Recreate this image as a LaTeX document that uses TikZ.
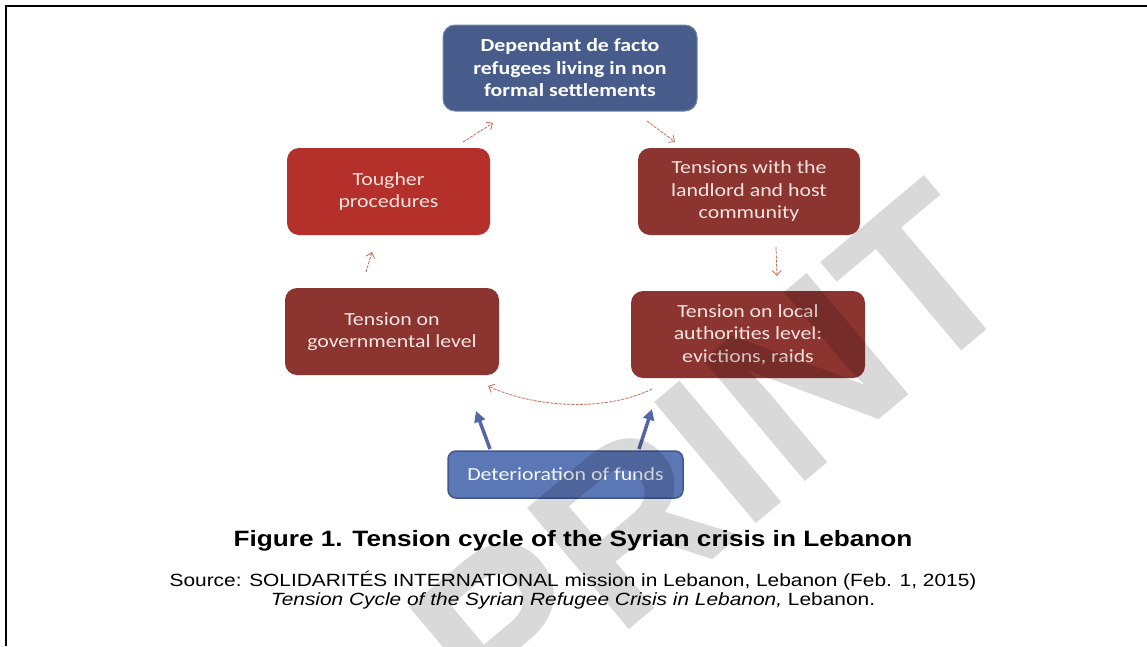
\documentclass[tikz,border=0pt]{standalone}
\usepackage{fontspec}
\setmainfont[FakeStretch=1.18]{Liberation Sans}
\newfontfamily\boxfont[FakeStretch=1.18]{Carlito}
\newfontfamily\wmfont{Liberation Sans}
\usetikzlibrary{arrows.meta}
\definecolor{topblue}{HTML}{485C8C}
\definecolor{brightred}{HTML}{B5302A}
\definecolor{darkred}{HTML}{8B3430}
\definecolor{funblue}{HTML}{5B77B5}
\definecolor{funedge}{HTML}{40578E}
\definecolor{arrred}{HTML}{C46A5A}
\definecolor{arrblue}{HTML}{5366A8}
\definecolor{boxtext}{HTML}{F6E4DF}
\tikzset{
  cbox/.style={rounded corners=12pt, inner sep=0pt, align=center,
    text=boxtext, font=\boxfont\fontsize{18.5}{22.5}\selectfont},
  thinarr/.style={draw=arrred, line width=0.8pt, dash pattern=on 3pt off 1.2pt,
    -{Straight Barb[length=5pt,width=9pt,line width=0.8pt]}},
  bluearr/.style={draw=arrblue, line width=3.5pt,
    -{Triangle[length=11pt,width=11pt]}},
  frameline/.style={line width=2pt, black}
}
\begin{document}
\begin{tikzpicture}[x=1pt,y=-1pt]
\useasboundingbox (0,0) rectangle (1147,646);
\fill[white] (0,0) rectangle (1147,646);
\draw[frameline] (6,646) -- (6,6) -- (1147,6);

\node[cbox, fill=topblue, draw=topblue!75!white, line width=1pt,
  minimum width=254pt, minimum height=86pt, text=white,
  font=\boxfont\bfseries\fontsize{18.5}{22.5}\selectfont] (top) at (570,68)
  {Dependant de facto\\refugees living in non\\formal settlements};
\node[cbox, fill=brightred, minimum width=203pt, minimum height=87pt] (tough) at (388.5,191.5)
  {Tougher\\procedures};
\node[cbox, fill=darkred, minimum width=222pt, minimum height=87pt] (tens) at (749,191.5)
  {Tensions with the\\landlord and host\\community};
\node[cbox, fill=darkred, minimum width=214pt, minimum height=87pt] (gov) at (392,331.5)
  {Tension on\\governmental level};
\node[cbox, fill=darkred, minimum width=234pt, minimum height=87pt] (local) at (748,334.5)
  {Tension on local\\authorities level:\\evictions, raids};
\node[cbox, rounded corners=8pt, fill=funblue, draw=funedge, line width=1.5pt,
  minimum width=235pt, minimum height=47pt, text=white!95!funblue] (funds) at (565.5,474.5)
  {Deterioration of funds};

\coordinate (a1s) at (463,142); \coordinate (a1e) at (493,123);
\coordinate (a2s) at (647,121); \coordinate (a2e) at (675,142);
\coordinate (a3s) at (776,247); \coordinate (a3e) at (777,276);
\coordinate (a4s) at (652,389); \coordinate (a4e) at (488,386);
\coordinate (a5s) at (366,272); \coordinate (a5e) at (372,252);
\coordinate (b1s) at (490,449); \coordinate (b1e) at (476,411);
\coordinate (b2s) at (639,449); \coordinate (b2e) at (652,409);

\draw[thinarr] (a1s) -- (a1e);
\draw[thinarr] (a2s) -- (a2e);
\draw[thinarr] (a3s) -- (a3e);
\draw[thinarr] (a4s) .. controls (610,410) and (540,410) .. (a4e);
\draw[thinarr] (a5s) -- (a5e);
\draw[bluearr] (b1s) -- (b1e);
\draw[bluearr] (b2s) -- (b2e);

\node[font=\bfseries\fontsize{22.2}{26}\selectfont] (cap) at (573,541)
  {Figure 1. Tension cycle of the Syrian crisis in Lebanon};
\node[font=\fontsize{17.7}{20}\selectfont] (src) at (573,581)
  {Source: SOLIDARITÉS INTERNATIONAL mission in Lebanon, Lebanon (Feb. 1, 2015)};
\node[font=\fontsize{17.7}{20}\selectfont] (src2) at (573,601)
  {\textit{Tension Cycle of the Syrian Refugee Crisis in Lebanon,} Lebanon.};

\begin{scope}[blend mode=multiply]
\node[font=\wmfont\bfseries\fontsize{230}{230}\selectfont, text=black!15, rotate=40, inner sep=0pt] (wm) at (713,456) {PRINT};
\end{scope}
\end{tikzpicture}
\end{document}
